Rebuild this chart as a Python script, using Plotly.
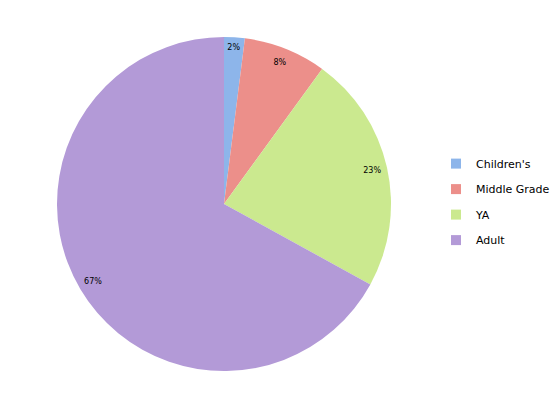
import plotly.graph_objects as go

labels = ["Children's", "Middle Grade", "YA", "Adult"]
values = [2, 8, 23, 67]
colors = ["#8db5ea", "#ec8f8a", "#cbe98f", "#b39ad7"]

W, H = 558, 402
cx, cy, r = 216, 196, 167
dom_x = [(cx - r) / W, (cx + r) / W]
dom_y = [(H - cy - r) / H, (H - cy + r) / H]

fig = go.Figure()
fig.add_trace(go.Pie(
    labels=labels, values=values, sort=False, direction="clockwise", rotation=0,
    marker=dict(colors=colors, line=dict(width=0)),
    textinfo="none", hoverinfo="skip", domain=dict(x=dom_x, y=dom_y),
    showlegend=False,
))
fig.add_trace(go.Pie(
    labels=labels, values=values, sort=False, direction="clockwise", rotation=0,
    hole=0.82,
    marker=dict(colors=["rgba(0,0,0,0)"] * 4, line=dict(width=0)),
    texttemplate="%{value}%", textposition="inside", insidetextorientation="horizontal",
    textfont=dict(family="DejaVu Sans", size=8, color="#000000"),
    hoverinfo="skip", domain=dict(x=dom_x, y=dom_y), showlegend=False,
))
# legend entries (one per category)
for lab, col in zip(labels, colors):
    fig.add_trace(go.Scatter(
        x=[None], y=[None], mode="markers", name=lab, legendgroup=lab,
        marker=dict(symbol="square", size=10, color=col), showlegend=True,
    ))
fig.update_layout(
    width=W, height=H, margin=dict(l=0, r=0, t=0, b=0, autoexpand=False),
    paper_bgcolor="white", plot_bgcolor="white",
    xaxis=dict(visible=False), yaxis=dict(visible=False),
    legend=dict(x=0.767, y=0.649, xref="container", yref="container",
                xanchor="left", yanchor="top",
                font=dict(family="DejaVu Sans", size=11, color="#000000"),
                itemwidth=30, tracegroupgap=6.5, bgcolor="rgba(0,0,0,0)"),
)
fig.write_html("out.html")
